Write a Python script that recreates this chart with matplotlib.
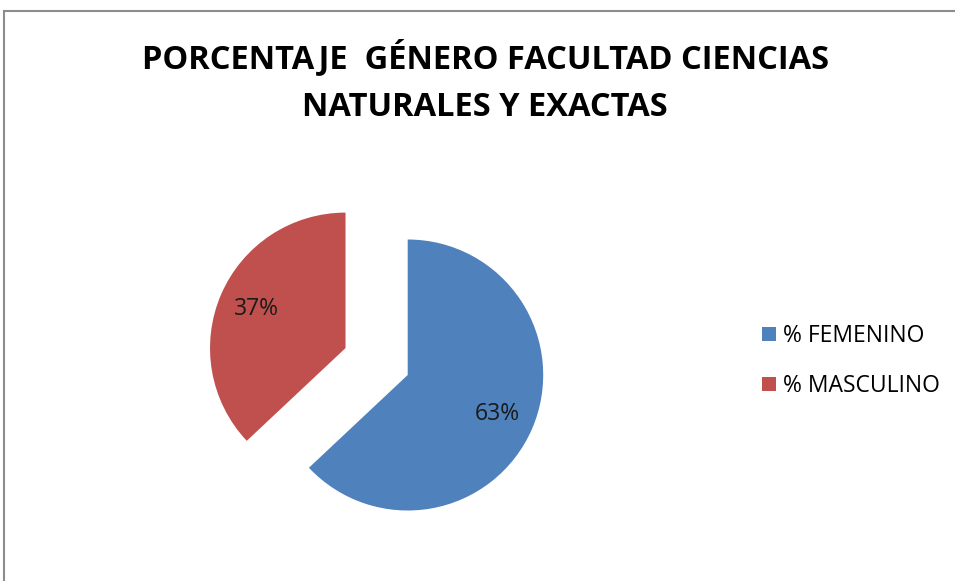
import matplotlib.pyplot as plt
from matplotlib.lines import Line2D

# Data
labels = ["% FEMENINO", "% MASCULINO"]
values = [63, 37]
colors = ["#4F81BD", "#C0504D"]
explode_frac = [0, 0.5]   # fraction of radius

title = "PORCENTAJE  GÉNERO FACULTAD CIENCIAS\nNATURALES Y EXACTAS"

W, H = 955, 581
R = 135.5
fig = plt.figure(figsize=(W / 100, H / 100), dpi=100)
ax = fig.add_axes([0, 0, 1, 1])

# Pie in pixel coordinates (y up); matplotlib explode is in data units
wedges, texts, autotexts = ax.pie(
    values,
    colors=colors,
    explode=[e * R for e in explode_frac],
    startangle=90,
    counterclock=False,
    center=(407.7, H - 375),
    radius=R,
    autopct="%1.0f%%",
    pctdistance=0.72,
    textprops={"fontsize": 16.5, "color": "#1a1a1a", "family": "Open Sans"},
    wedgeprops={"linewidth": 0},
    frame=True,
)
ax.set_xlim(0, W)
ax.set_ylim(0, H)
ax.set_aspect("equal")
ax.axis("off")

# Title
ax.text(485, H - 81.5, title, ha="center", va="center", fontsize=23.5,
        fontweight="bold", family="Open Sans", linespacing=1.58, color="#000000")

# Legend
handles = [Line2D([], [], marker="s", linestyle="none", markersize=9.5,
                  markerfacecolor=c, markeredgewidth=0) for c in colors]
ax.legend(handles, labels, loc="center left",
          bbox_to_anchor=(735 / W, 1 - 361 / H), frameon=False,
          prop={"family": "Open Sans", "size": 16.5},
          handletextpad=0.05, labelspacing=1.15, handlelength=1.15)

# Chart border (left and top visible)
ax.add_line(Line2D([4, 4], [0, H - 11], color="#8c8c8c", linewidth=1.5))
ax.add_line(Line2D([4, W], [H - 11, H - 11], color="#8c8c8c", linewidth=1.5))

fig.savefig("out.png", dpi=100)
